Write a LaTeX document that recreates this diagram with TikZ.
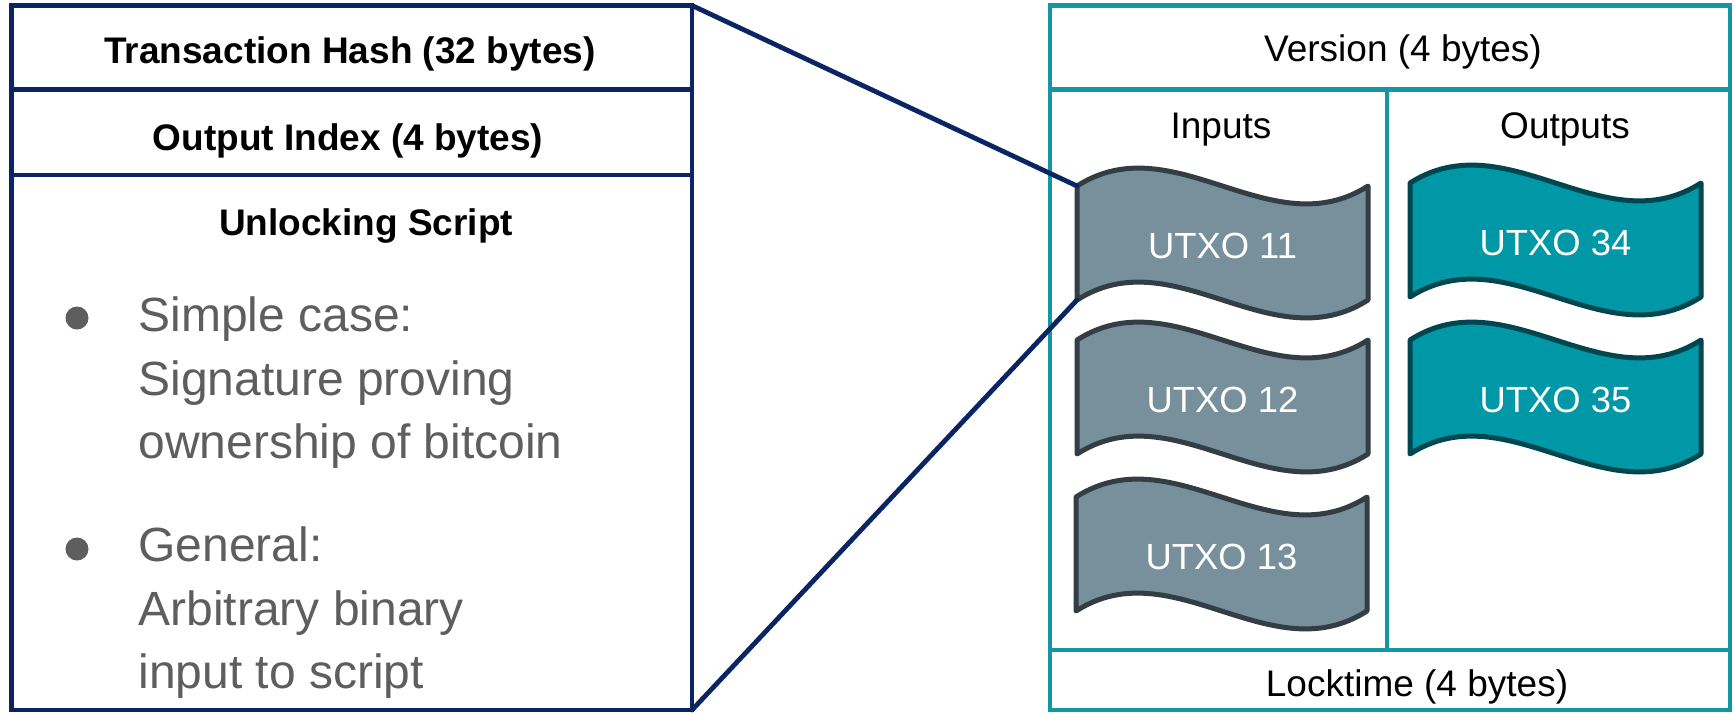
\documentclass[tikz,border=0pt]{standalone}
\usepackage{fontspec}
\setmainfont{Liberation Sans}

\definecolor{navyline}{HTML}{0B2463}
\definecolor{tealline}{HTML}{1497A4}
\definecolor{bulletgray}{HTML}{5E5E5E}
\definecolor{slatefill}{HTML}{78909C}
\definecolor{slateline}{HTML}{323E43}
\definecolor{tealfill}{HTML}{0097A7}
\definecolor{tealdark}{HTML}{00464E}

% One wavy UTXO banner: name, left x, top y, style, label
\newcommand\utxobanner[5]{%
  \pgfmathsetmacro\utxL{#2}\pgfmathsetmacro\utxT{#3}%
  \pgfmathsetmacro\utxR{#2+291}\pgfmathsetmacro\utxB{#3+114}%
  \pgfmathsetmacro\utxCa{#2+97}\pgfmathsetmacro\utxCb{#2+194}%
  \pgfmathsetmacro\utxM{#2+145.5}%
  \draw[#4] (\utxL,\utxT) .. controls (\utxCa,\utxT-62) and (\utxCb,\utxT+62) .. (\utxR,\utxT)
    -- (\utxR,\utxB) .. controls (\utxCb,\utxB+62) and (\utxCa,\utxB-62) .. (\utxL,\utxB) -- cycle;
  \coordinate (#1-tl) at (\utxL,\utxT);
  \coordinate (#1-bl) at (\utxL,\utxB);
  \node[utxotext] (#1) at (\utxM,\utxT+72) {#5};
}

\begin{document}
\begin{tikzpicture}[x=0.5pt, y=-0.5pt,
  navycell/.style={draw=navyline, line width=2.4pt, inner sep=0pt, outer sep=0pt},
  tealcell/.style={draw=tealline, line width=2.3pt, inner sep=0pt, outer sep=0pt},
  head/.style={font=\fontsize{18.5}{22}\selectfont, anchor=base, inner sep=0pt},
  headbold/.style={font=\fontsize{18.5}{22}\selectfont\bfseries, anchor=base, inner sep=0pt},
  bullettext/.style={font=\fontsize{24}{28}\selectfont, text=bulletgray, anchor=base west, inner sep=0pt},
  bulletdot/.style={circle, fill=bulletgray, minimum size=11.5pt, inner sep=0pt},
  link/.style={draw=navyline, line width=2.4pt, line cap=round},
  inbanner/.style={fill=slatefill, draw=slateline, line width=2.5pt, line join=round},
  outbanner/.style={fill=tealfill, draw=tealdark, line width=2.5pt, line join=round},
  utxotext/.style={font=\fontsize{18.2}{22}\selectfont, text=white, anchor=base, inner sep=0pt}]

\fill[white] (0,0) rectangle (1735,713);
\useasboundingbox (0,0) rectangle (1735,713);

% ---- transaction input record ----
\node[navycell, minimum width=340.25pt, minimum height=42pt]    (hash)   at (351.75,47.5)  {};
\node[navycell, minimum width=340.25pt, minimum height=42.75pt] (outidx) at (351.75,132.25) {};
\node[navycell, minimum width=340.25pt, minimum height=267.5pt] (script) at (351.75,442.5) {};

\node[headbold] (hashtxt)   at (350,63)  {Transaction Hash (32 bytes)};
\node[headbold] (outidxtxt) at (348,150) {Output Index (4 bytes)};
\node[headbold] (scripttxt) at (366,235) {Unlocking Script};

\node[bulletdot] (b1) at (77,318) {};
\node[bullettext] (b1a) at (138,331.5) {Simple case:};
\node[bullettext] (b1b) at (138,395)   {Signature proving};
\node[bullettext] (b1c) at (138,458.5) {ownership of bitcoin};

\node[bulletdot] (b2) at (77,549) {};
\node[bullettext] (b2a) at (138,561.5) {General:};
\node[bullettext] (b2b) at (138,625)   {Arbitrary binary};
\node[bullettext] (b2c) at (138,688.5) {input to script};

% ---- transaction ----
\node[tealcell, minimum width=340pt,   minimum height=42pt]     (version)  at (1390,47.5)    {};
\node[tealcell, minimum width=168.5pt, minimum height=280.25pt] (inputs)   at (1218.5,369.75) {};
\node[tealcell, minimum width=171.5pt, minimum height=280.25pt] (outputs)  at (1558.5,369.75) {};
\node[tealcell, minimum width=340pt,   minimum height=30pt]     (locktime) at (1390,680)     {};

\node[head] (versiontxt)  at (1403,61.7)  {Version (4 bytes)};
\node[head] (inputstxt)   at (1221,138.3) {Inputs};
\node[head] (outputstxt)  at (1565,138.3) {Outputs};
\node[head] (locktimetxt) at (1417,696.7) {Locktime (4 bytes)};

% ---- UTXO banners ----
\utxobanner{u11}{1077}{186}{inbanner}{UTXO 11}
\utxobanner{u12}{1077}{340}{inbanner}{UTXO 12}
\utxobanner{u13}{1076}{497}{inbanner}{UTXO 13}
\utxobanner{u34}{1410}{183}{outbanner}{UTXO 34}
\utxobanner{u35}{1410}{340}{outbanner}{UTXO 35}

% ---- zoom lines from the input record to UTXO 11 ----
\draw[link] (script.south east) -- (u11-bl);
\draw[link] (hash.north east) -- (u11-tl);

\end{tikzpicture}
\end{document}
